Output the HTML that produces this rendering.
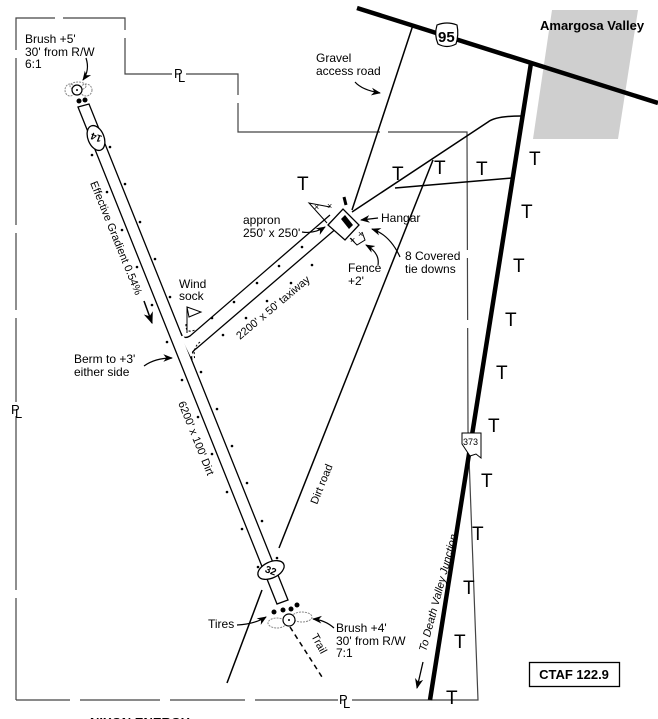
<!DOCTYPE html>
<html><head><meta charset="utf-8"><style>
html,body{margin:0;padding:0;background:#fff;width:658px;height:719px;overflow:hidden}
svg{display:block}
text{font-family:"Liberation Sans",Arial,sans-serif;font-size:12px;fill:#000}
text.t{font-size:19px}
text.pl{font-size:13px}
</style></head><body>
<svg width="658" height="719" viewBox="0 0 658 719" xmlns="http://www.w3.org/2000/svg">
<defs>
<marker id="ah" viewBox="0 0 10 10" refX="9" refY="5" markerWidth="8" markerHeight="8" orient="auto"><path d="M0,1 L10,5 L0,9 L3,5 z" fill="#000"/></marker>
</defs>
<polygon points="552,10 638,10 618,139 533,139" fill="#cfcfcf"/>
<text x="540" y="30" style="font-weight:bold;font-size:13px">Amargosa Valley</text>

<g stroke="#444" stroke-width="1.2" fill="none">
<polyline points="16,700 16,18 125,18 125,74 238,74 238,132 467,132 468,430 478,700 16,700"/>
</g>
<g stroke="#fff" stroke-width="3">
<line x1="16" y1="50" x2="16" y2="58"/><line x1="16" y1="225" x2="16" y2="233"/><line x1="16" y1="310" x2="16" y2="318"/><line x1="16" y1="590" x2="16" y2="598"/>
<line x1="55" y1="18" x2="63" y2="18"/><line x1="125" y1="30" x2="125" y2="38"/><line x1="238" y1="95" x2="238" y2="103"/>
<line x1="380" y1="132" x2="388" y2="132"/><line x1="467" y1="250" x2="467" y2="258"/><line x1="468" y1="320" x2="468" y2="328"/>
<line x1="70" y1="700" x2="80" y2="700"/><line x1="160" y1="700" x2="170" y2="700"/><line x1="245" y1="700" x2="255" y2="700"/>
</g>
<rect x="172" y="66" width="14" height="14" fill="#fff"/><text class="pl" x="174" y="78">P</text><text class="pl" x="178" y="82">L</text>
<rect x="10" y="402" width="14" height="14" fill="#fff"/><text class="pl" x="11" y="414">P</text><text class="pl" x="15" y="418">L</text>
<rect x="338" y="692" width="14" height="14" fill="#fff"/><text class="pl" x="339" y="704">P</text><text class="pl" x="343" y="708">L</text>

<line x1="357" y1="8" x2="658" y2="103" stroke="#000" stroke-width="4.5"/>
<line x1="531" y1="63" x2="430" y2="700" stroke="#000" stroke-width="4.5"/>
<path d="M437,25 Q447,21 457,25 Q459,35 456,44 Q447,49 438,44 Q434,35 437,25z" fill="#fff" stroke="#000" stroke-width="1.2"/>
<text x="438" y="42" style="font-weight:bold;font-size:15px">95</text>
<path d="M462,433 L481,433 L481,458 L476,454 L470,456 L462,444z" fill="#fff" stroke="#000" stroke-width="1"/>
<text x="463" y="445" style="font-size:9px">373</text>

<g stroke="#000" stroke-width="1.5" fill="none">
<line x1="413" y1="25" x2="352" y2="210"/>
<path d="M352,212 L488,122 Q496,116 521,116"/>
<line x1="395" y1="188" x2="512" y2="178"/>
<line x1="433" y1="160" x2="279" y2="548"/>
<line x1="262" y1="590" x2="227" y2="683"/>
<line x1="290" y1="627" x2="322" y2="677" stroke-dasharray="5,4"/>
</g>

<polygon points="78,107 89,104 288,600 277,604" fill="#fff" stroke="#000" stroke-width="1.3"/>
<path d="M181,333 Q183,340 190,336 L330,215" stroke="#000" stroke-width="1.3" fill="none"/>
<path d="M192,360 Q190,352 197,348 L338,227" stroke="#000" stroke-width="1.3" fill="none"/>
<line x1="182" y1="336" x2="192" y2="356" stroke="#fff" stroke-width="3"/>
<path d="M186,324 Q185,334 195,330" stroke="#000" stroke-dasharray="2,2" fill="none"/>
<path d="M200,342 Q192,348 195,360" stroke="#000" stroke-dasharray="2,2" fill="none"/>

<ellipse cx="96" cy="138" rx="13" ry="8" transform="rotate(68 96 138)" fill="#fff" stroke="#000" stroke-width="1.3"/>
<text x="96" y="142" text-anchor="middle" transform="rotate(200 96 138)" style="font-size:10px;font-weight:bold">14</text>
<ellipse cx="271" cy="570" rx="14" ry="8" transform="rotate(-25 271 570)" fill="#fff" stroke="#000" stroke-width="1.3"/>
<text x="271" y="574" text-anchor="middle" transform="rotate(20 271 570)" style="font-size:10px;font-weight:bold">32</text>

<g fill="#000">
<circle cx="110" cy="147" r="1.3"/><circle cx="125" cy="184" r="1.3"/><circle cx="140" cy="222" r="1.3"/><circle cx="155" cy="259" r="1.3"/><circle cx="170" cy="297" r="1.3"/>
<circle cx="201" cy="372" r="1.3"/><circle cx="217" cy="409" r="1.3"/><circle cx="232" cy="446" r="1.3"/><circle cx="247" cy="483" r="1.3"/><circle cx="262" cy="521" r="1.3"/><circle cx="277" cy="558" r="1.3"/>
<circle cx="92" cy="155" r="1.3"/><circle cx="107" cy="192" r="1.3"/><circle cx="122" cy="230" r="1.3"/><circle cx="137" cy="267" r="1.3"/><circle cx="152" cy="305" r="1.3"/>
<circle cx="167" cy="342" r="1.3"/><circle cx="182" cy="380" r="1.3"/><circle cx="198" cy="417" r="1.3"/><circle cx="212" cy="454" r="1.3"/><circle cx="227" cy="492" r="1.3"/><circle cx="242" cy="529" r="1.3"/><circle cx="258" cy="567" r="1.3"/>
<circle cx="212" cy="318" r="1.3"/><circle cx="234" cy="302" r="1.3"/><circle cx="257" cy="283" r="1.3"/><circle cx="279" cy="266" r="1.3"/><circle cx="302" cy="247" r="1.3"/>
<circle cx="223" cy="335" r="1.3"/><circle cx="246" cy="318" r="1.3"/><circle cx="267" cy="301" r="1.3"/><circle cx="291" cy="283" r="1.3"/><circle cx="312" cy="265" r="1.3"/>
<circle cx="79" cy="101" r="2.5"/><circle cx="85" cy="100" r="2.5"/>
<circle cx="274" cy="612" r="2.5"/><circle cx="283" cy="610" r="2.5"/><circle cx="291" cy="609" r="2.5"/><circle cx="297" cy="605" r="2.5"/>
</g>

<g fill="none" stroke="#888" stroke-width="1" stroke-dasharray="2,1">
<ellipse cx="70" cy="90" rx="5" ry="6"/><ellipse cx="86" cy="90" rx="6" ry="6"/><ellipse cx="78" cy="86" rx="8" ry="4"/>
<ellipse cx="277" cy="623" rx="9" ry="5"/><ellipse cx="302" cy="617" rx="10" ry="5"/>
</g>
<circle cx="77" cy="90" r="5" fill="#fff" stroke="#000" stroke-width="1.2"/><circle cx="77" cy="90" r="1" fill="#000"/>
<circle cx="289" cy="620" r="6" fill="#fff" stroke="#000" stroke-width="1.2"/><circle cx="289" cy="620" r="1" fill="#000"/>

<polygon points="328,225 343,209 359,225 345,240" fill="#fff" stroke="#000" stroke-width="1.3"/>
<polygon points="341,219 345,215 353,225 349,229" fill="#000"/>
<line x1="344" y1="197" x2="346" y2="205" stroke="#000" stroke-width="3"/>
<polyline points="330,207 309,203 327,223" fill="none" stroke="#000" stroke-width="1"/>
<text x="314" y="210" style="font-size:9px">×</text><text x="327" y="209" style="font-size:9px">×</text>
<polyline points="362,232 365,240 357,245 350,238" fill="none" stroke="#000" stroke-width="1"/>
<text x="358" y="237" style="font-size:9px">×</text><text x="350" y="243" style="font-size:9px">×</text>

<line x1="187" y1="333" x2="187" y2="307" stroke="#000"/>
<polygon points="187,307 201,312 189,317" fill="none" stroke="#000"/>

<text class="t" x="297" y="190">T</text><text class="t" x="392" y="180">T</text><text class="t" x="434" y="174">T</text><text class="t" x="476" y="175">T</text><text class="t" x="529" y="165">T</text>
<text class="t" x="521" y="218">T</text><text class="t" x="513" y="272">T</text><text class="t" x="505" y="326">T</text><text class="t" x="496" y="379">T</text><text class="t" x="488" y="432">T</text>
<text class="t" x="481" y="487">T</text><text class="t" x="472" y="540">T</text><text class="t" x="463" y="594">T</text><text class="t" x="454" y="648">T</text><text class="t" x="446" y="704">T</text>

<text x="25" y="43">Brush +5'</text><text x="25" y="56">30' from R/W</text><text x="25" y="68">6:1</text>
<path d="M86,58 Q90,70 83,80" fill="none" stroke="#000" stroke-width="1.2" marker-end="url(#ah)"/>
<text x="316" y="62">Gravel</text><text x="316" y="75">access road</text>
<path d="M355,82 Q362,90 380,93" fill="none" stroke="#000" stroke-width="1.2" marker-end="url(#ah)"/>
<text x="243" y="224">appron</text><text x="243" y="237">250' x 250'</text>
<path d="M302,232 Q314,234 325,227" fill="none" stroke="#000" stroke-width="1.2" marker-end="url(#ah)"/>
<text x="381" y="222">Hangar</text>
<line x1="378" y1="218" x2="361" y2="220" stroke="#000" stroke-width="1.2" marker-end="url(#ah)"/>
<text x="405" y="260">8 Covered</text><text x="405" y="273">tie downs</text>
<path d="M400,257 Q390,235 372,229" fill="none" stroke="#000" stroke-width="1.2" marker-end="url(#ah)"/>
<text x="348" y="272">Fence</text><text x="348" y="285">+2'</text>
<path d="M378,265 Q380,253 366,245" fill="none" stroke="#000" stroke-width="1.2" marker-end="url(#ah)"/>
<text x="179" y="288">Wind</text><text x="179" y="300">sock</text>
<text x="74" y="363">Berm to +3'</text><text x="74" y="376">either side</text>
<path d="M144,366 Q155,358 172,358" fill="none" stroke="#000" stroke-width="1.2" marker-end="url(#ah)"/>
<line x1="144" y1="301" x2="152" y2="323" stroke="#000" stroke-width="1.5" marker-end="url(#ah)"/>
<text x="90" y="183" transform="rotate(68 90 183)" style="font-size:11px">Effective Gradient 0.54%</text>
<text x="240" y="340" transform="rotate(-40 240 340)" style="font-size:11px">2200' x 50' taxiway</text>
<text x="178" y="403" transform="rotate(68 178 403)" style="font-size:11px">6200' x 100' Dirt</text>
<text x="317" y="505" transform="rotate(-68 317 505)" style="font-size:11px">Dirt road</text>
<text x="208" y="628">Tires</text>
<path d="M237,625 Q255,624 266,617" fill="none" stroke="#000" stroke-width="1.2" marker-end="url(#ah)"/>
<text x="336" y="632">Brush +4'</text><text x="336" y="645">30' from R/W</text><text x="336" y="657">7:1</text>
<path d="M334,628 Q325,620 313,619" fill="none" stroke="#000" stroke-width="1.2" marker-end="url(#ah)"/>
<text x="311" y="636" transform="rotate(62 311 636)" style="font-size:11px">Trail</text>
<text x="426" y="652" transform="rotate(-75 426 652)" style="font-size:11px;font-style:italic">To Death Valley Junction</text>
<line x1="423" y1="662" x2="417" y2="688" stroke="#000" stroke-width="1.3" marker-end="url(#ah)"/>
<rect x="529.5" y="662.5" width="90" height="24" fill="#fff" stroke="#000" stroke-width="1.3"/>
<text x="574" y="679" text-anchor="middle" style="font-weight:bold;font-size:13px">CTAF 122.9</text>
<text x="90" y="727" style="font-weight:bold;font-size:13px">NIXON ENERGY</text>
</svg>
</body></html>
